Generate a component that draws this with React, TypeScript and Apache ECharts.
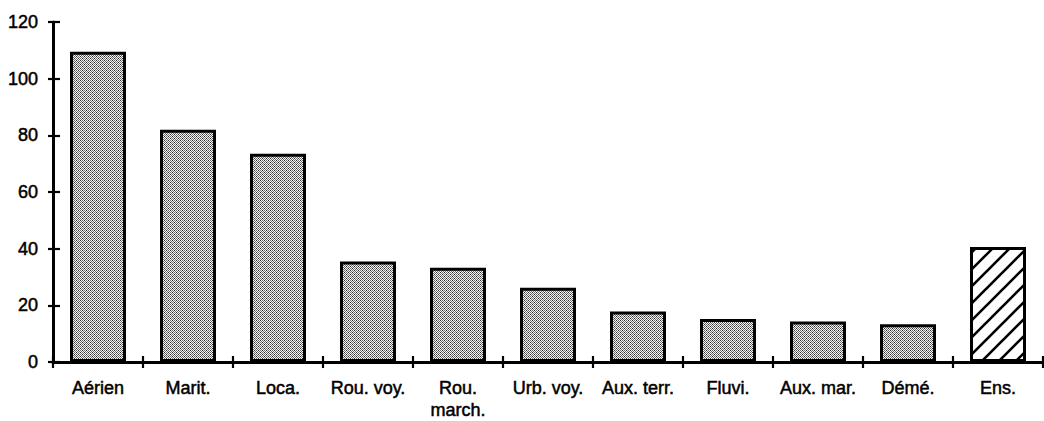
import React, { useEffect, useRef } from 'react';
import * as echarts from 'echarts';

const categories = ['Aérien', 'Marit.', 'Loca.', 'Rou. voy.', 'Rou.\nmarch.', 'Urb. voy.', 'Aux. terr.', 'Fluvi.', 'Aux. mar.', 'Démé.', 'Ens.'];
const values = [109.5, 82, 73.5, 35.5, 33.3, 26.2, 17.8, 15.2, 14.3, 13.3, 40.6];
const hatchedIndex = 10;
const yMin = 0;
const yMax = 120;
const yInterval = 20;

function dotPattern(): HTMLCanvasElement {
  const c = document.createElement('canvas');
  c.width = 4;
  c.height = 4;
  const ctx = c.getContext('2d')!;
  ctx.fillStyle = '#f6f6f6';
  ctx.fillRect(0, 0, 4, 4);
  ctx.fillStyle = '#6a6a6a';
  for (let y = 0; y < 4; y++) {
    for (let x = 0; x < 4; x++) {
      if ((x + y) % 2 === 0) ctx.fillRect(x, y, 1, 1);
    }
  }
  ctx.fillStyle = '#2a2a2a';
  [[0, 0], [2, 2]].forEach(([x, y]) => ctx.fillRect(x, y, 1, 1));
  return c;
}

function hatchPattern(): HTMLCanvasElement {
  const s = 17;
  const c = document.createElement('canvas');
  c.width = s;
  c.height = s;
  const ctx = c.getContext('2d')!;
  ctx.fillStyle = '#ffffff';
  ctx.fillRect(0, 0, s, s);
  ctx.strokeStyle = '#000000';
  ctx.lineWidth = 2.6;
  ctx.beginPath();
  ctx.moveTo(-3, s + 3);
  ctx.lineTo(s + 3, -3);
  ctx.moveTo(-3, 3);
  ctx.lineTo(3, -3);
  ctx.moveTo(s - 3, s + 3);
  ctx.lineTo(s + 3, s - 3);
  ctx.stroke();
  return c;
}

export default function App() {
  const ref = useRef<HTMLDivElement>(null);

  useEffect(() => {
    if (!ref.current) return;
    const chart = echarts.init(ref.current, undefined, { renderer: 'svg' });
    const dots = dotPattern();
    const hatch = hatchPattern();
    const font = {
      fontFamily: '"Liberation Sans", Arial, sans-serif',
      fontSize: 18,
      fontWeight: 'normal',
      color: '#000',
      textBorderColor: '#000',
      textBorderWidth: 0.5,
    };
    const lineStyle = { color: '#000', width: 3 };

    chart.setOption({
      animation: false,
      backgroundColor: '#fff',
      grid: { left: 53, right: 1, top: 22, bottom: 57, containLabel: false },
      xAxis: [
        {
          type: 'category',
          data: categories,
          position: 'bottom',
          boundaryGap: true,
          axisLine: { show: true, lineStyle },
          axisTick: { show: true, length: 6, lineStyle: { color: '#000', width: 2.2 } },
          axisLabel: { ...font, margin: 15, lineHeight: 22, interval: 0 },
          splitLine: { show: false },
        },
        {
          type: 'category',
          data: categories,
          position: 'bottom',
          boundaryGap: true,
          axisLine: { show: false },
          axisTick: { show: true, inside: true, length: 6, lineStyle: { color: '#000', width: 2.2 } },
          axisLabel: { show: false },
          splitLine: { show: false },
        },
      ],
      yAxis: [
        {
          type: 'value',
          min: yMin,
          max: yMax,
          interval: yInterval,
          position: 'left',
          axisLine: { show: true, lineStyle },
          axisTick: { show: true, length: 5, lineStyle: { color: '#000', width: 2.2 } },
          axisLabel: { ...font, margin: 15 },
          splitLine: { show: false },
        },
        {
          type: 'value',
          min: yMin,
          max: yMax,
          interval: yInterval,
          position: 'left',
          offset: 0,
          axisLine: { show: false },
          axisTick: { show: true, inside: true, length: 7, lineStyle: { color: '#000', width: 2.2 } },
          axisLabel: { show: false },
          splitLine: { show: false },
        },
      ],
      series: [
        {
          type: 'bar',
          xAxisIndex: 0,
          yAxisIndex: 0,
          barWidth: 56,
          data: values.map((v, i) => ({
            value: v,
            itemStyle: {
              color: { image: i === hatchedIndex ? hatch : dots, repeat: 'repeat' },
              borderColor: '#000',
              borderWidth: 3,
            },
          })),
        },
      ],
    });

    return () => chart.dispose();
  }, []);

  return (
    <div
      ref={ref}
      style={{ position: 'fixed', left: 0, top: 0, width: 1044, height: 421, background: '#fff' }}
    />
  );
}
